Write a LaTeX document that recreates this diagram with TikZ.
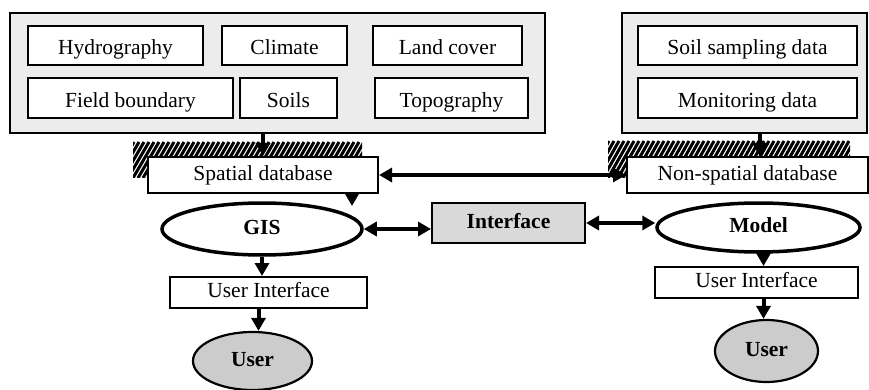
\documentclass[tikz,border=0pt]{standalone}
\usepackage{fontspec}
\setmainfont{Liberation Serif}
\usetikzlibrary{arrows.meta,shapes.geometric}
\begin{document}
\begin{tikzpicture}[x=1pt, y=-1pt,
        every node/.style={font=\fontsize{21.5}{24}\selectfont, inner sep=0pt, text height=14.5pt, text depth=4.5pt},
        panel/.style={draw, line width=2pt, fill=gray!15},
        box/.style={draw, line width=2pt, fill=white},
        srcbox/.style={box, text height=19pt, text depth=0pt},
        hatchline/.style={line width=3pt},
        oval/.style={draw, ellipse, line width=3.5pt, fill=white, font=\fontsize{21.5}{24}\selectfont\bfseries},
        userblob/.style={draw, ellipse, line width=2.2pt, fill=gray!40, font=\fontsize{21.5}{24}\selectfont\bfseries},
        arr/.style={line width=4pt, -{Triangle[length=13pt, width=14pt]}},
        dblarr/.style={line width=4pt, {Triangle[length=13pt, width=14pt]}-{Triangle[length=13pt, width=14pt]}}]
                \useasboundingbox (0,0) rectangle (869,390);
                % data sources
                \node[panel, minimum width=535, minimum height=120] (spatsrc) at (277.5,73) {};
                \node[panel, minimum width=245, minimum height=120] (attrsrc) at (744.5,73) {};
                \node[srcbox, minimum width=175, minimum height=39] (hydro) at (115.5,45.5) {Hydrography};
                \node[srcbox, minimum width=125, minimum height=39] (climate) at (284.5,45.5) {Climate};
                \node[srcbox, minimum width=149, minimum height=39] (landcov) at (447.5,45.5) {Land cover};
                \node[srcbox, minimum width=205, minimum height=40] (fieldb) at (130.5,98) {Field boundary};
                \node[srcbox, minimum width=97, minimum height=40] (soils) at (288.5,98) {Soils};
                \node[srcbox, minimum width=153, minimum height=40] (topo) at (451.5,98) {Topography};
                \node[srcbox, minimum width=219, minimum height=39] (sampling) at (747.5,45.5) {Soil sampling data};
                \node[srcbox, minimum width=219, minimum height=40] (monitor) at (747.5,98) {Monitoring data};
                % databases, hatched shadows first
                \begin{scope}
                    \clip (133,142) rectangle (362,178);
                    \foreach \hx in {108,113,...,365} \draw[hatchline] (\hx,178) -- (\hx+21,142);
                \end{scope}
                \begin{scope}
                    \clip (608,141) rectangle (850,178);
                    \foreach \hx in {583,588,...,852} \draw[hatchline] (\hx,178) -- (\hx+21,141);
                \end{scope}
                \node[box, minimum width=230, minimum height=36] (spatdb) at (263,175) {Spatial database};
                \node[box, minimum width=241, minimum height=36] (nonspatdb) at (747.5,175) {Non-spatial database};
                % tools
                \node[oval, minimum width=200, minimum height=52] (gis) at (262,229) {GIS};
                \node[draw, line width=2pt, fill=gray!30, font=\fontsize{21.5}{24}\selectfont\bfseries, minimum width=153, minimum height=40] (iface) at (508.5,223) {Interface};
                \node[oval, minimum width=203, minimum height=49] (model) at (758.5,227.5) {Model};
                \node[box, minimum width=197, minimum height=31] (uileft) at (268.5,292.5) {User Interface};
                \node[box, minimum width=203, minimum height=31] (uiright) at (756.5,282.5) {User Interface};
                \node[userblob, minimum width=119, minimum height=58] (userleft) at (252.5,361) {User};
                \node[userblob, minimum width=103, minimum height=62] (userright) at (766.5,351) {User};
                \coordinate (gistop) at (352,206);
                % connectors
                \draw[arr] (spatsrc.south -| spatdb.north) -- (spatdb.north);
                \draw[arr] ([xshift=15pt]attrsrc.south) -- ([xshift=15pt]attrsrc.south |- nonspatdb.north);
                \draw[dblarr] (spatdb.east) -- (nonspatdb.west);
                \draw[arr] (spatdb.south -| gistop) -- (gistop);
                \draw[dblarr] (gis.east) -- (gis.east -| iface.west);
                \draw[dblarr] (iface.east) -- (iface.east -| model.west);
                \draw[arr] (gis.south) -- (gis.south |- uileft.north);
                \draw[arr] ([xshift=-10pt]uileft.south) -- ([xshift=-10pt]uileft.south |- userleft.north);
                \draw[arr] ([xshift=5pt]model.south) -- ([xshift=5pt]model.south |- uiright.north);
                \draw[arr] ([xshift=7pt]uiright.south) -- ([xshift=7pt]uiright.south |- userright.north);
            \end{tikzpicture}
\end{document}
